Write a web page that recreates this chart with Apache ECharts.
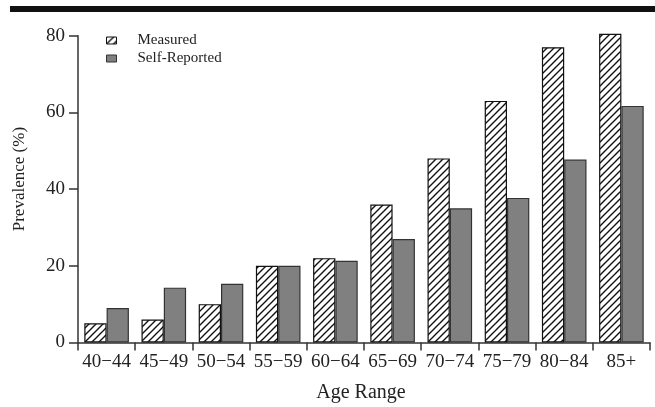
<!DOCTYPE html>
<html>
<head>
<meta charset="utf-8">
<script src="https://cdn.jsdelivr.net/npm/echarts@6/dist/echarts.min.js"></script>
<style>
  html, body { margin: 0; padding: 0; background: #fff; }
  #chart { width: 655px; height: 407px; }
</style>
</head>
<body>
<div id="chart"></div>
<script>
// Age groups and prevalence (%) of each measure
const ageRanges = ['40\u221244', '45\u221249', '50\u221254', '55\u221259', '60\u221264', '65\u221269', '70\u221274', '75\u221279', '80\u221284', '85+'];
const measured = [5, 6, 10, 20, 22, 36, 48, 63, 77, 80.5];
const selfReported = [9, 14.3, 15.3, 20, 21.3, 27, 35, 37.7, 47.7, 61.7];
const yTicks = [0, 20, 40, 60, 80];

// Diagonal hatch fill for the measured bars
function hatchPattern() {
  const s = 7;
  const c = document.createElement('canvas');
  c.width = s; c.height = s;
  const g = c.getContext('2d');
  g.fillStyle = '#fff';
  g.fillRect(0, 0, s, s);
  g.strokeStyle = '#111';
  g.lineWidth = 1.4;
  g.beginPath();
  g.moveTo(-1, s + 1); g.lineTo(s + 1, -1);
  g.moveTo(-1 - s, s + 1); g.lineTo(1, -1);
  g.moveTo(s - 1, s + 1); g.lineTo(2 * s + 1, -1);
  g.stroke();
  return { image: c, repeat: 'repeat' };
}
const hatch = hatchPattern();

const font = '"Liberation Serif", "DejaVu Serif", serif';
const chart = echarts.init(document.getElementById('chart'), null, { renderer: 'canvas' });

chart.setOption({
  animation: false,
  backgroundColor: '#fff',
  textStyle: { fontFamily: font },
  graphic: [
    { type: 'rect', shape: { x: 10, y: 6, width: 645, height: 6 }, style: { fill: '#111' } }
  ],
  legend: {
    orient: 'vertical',
    left: 106,
    top: 33,
    padding: 0,
    itemWidth: 10,
    itemHeight: 7,
    itemGap: 3,
    textStyle: { fontFamily: font, fontSize: 15, color: '#222', padding: [0, 0, 0, 16] },
    data: [
      { name: 'Measured', icon: 'rect', itemStyle: { color: hatch, borderColor: '#111', borderWidth: 1 } },
      { name: 'Self-Reported', icon: 'rect', itemStyle: { color: '#808080', borderColor: '#333', borderWidth: 1 } }
    ]
  },
  grid: { left: 78, right: 5, top: 35.7, bottom: 64.5, containLabel: false, outerBoundsMode: 'none' },
  xAxis: {
    type: 'category',
    data: ageRanges,
    name: 'Age Range',
    nameLocation: 'middle',
    nameGap: 40,
    nameTextStyle: { fontFamily: font, fontSize: 20, color: '#222', padding: [0, 6, 0, 0] },
    axisLine: { lineStyle: { color: '#333', width: 1.5 } },
    axisTick: { show: true, length: 8, lineStyle: { color: '#333', width: 1.5 } },
    axisLabel: { fontFamily: font, fontSize: 19, color: '#222', margin: 10, interval: 0, hideOverlap: false }
  },
  yAxis: {
    type: 'value',
    min: 0,
    max: 80,
    interval: 20,
    name: 'Prevalence (%)',
    nameLocation: 'middle',
    nameGap: 50,
    nameTextStyle: { fontFamily: font, fontSize: 17, color: '#222', padding: [0, 0, 0, 20] },
    axisLine: { show: true, lineStyle: { color: '#333', width: 1.5 } },
    axisTick: { show: true, length: 9, lineStyle: { color: '#333', width: 1.5 } },
    axisLabel: {
      fontFamily: font, fontSize: 19, color: '#222', margin: 13,
      formatter: v => (yTicks.indexOf(v) >= 0 ? String(v) : '')
    },
    splitLine: { show: false }
  },
  series: [
    {
      name: 'Measured',
      type: 'bar',
      data: measured,
      barWidth: 22.3,
      barGap: '0%',
      clip: false,
      itemStyle: { color: hatch, borderColor: '#111', borderWidth: 1.2 }
    },
    {
      name: 'Self-Reported',
      type: 'bar',
      data: selfReported,
      barWidth: 22.3,
      barGap: '0%',
      clip: false,
      itemStyle: { color: '#808080', borderColor: '#333', borderWidth: 1.2 }
    }
  ]
});
</script>
</body>
</html>
